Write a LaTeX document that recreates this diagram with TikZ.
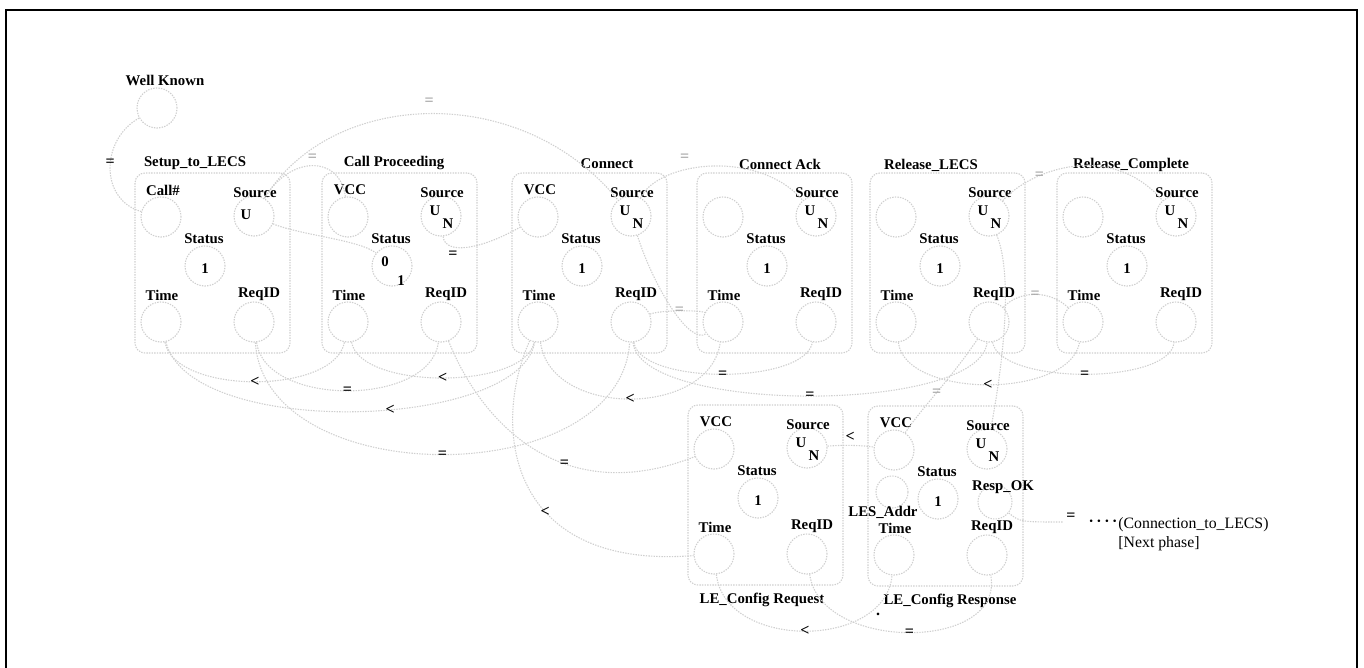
\documentclass[tikz,border=0pt]{standalone}
\usepackage{fontspec}
\setmainfont{Liberation Serif}

% one message: rounded frame with its five field circles and their names
\newcommand\msgfields[2]{%
  \node[msgbox] (#1box) at (77.5,90) {};
  \node[fld] (#1a) at (26,44) {};
  \node[lbl] (#1al) at (28,17) {#2};
  \node[fld] (#1s) at (119,43) {};
  \node[lbl] (#1sl) at (120,20) {Source};
  \node[fld] (#1st) at (70,93) {};
  \node[lbl] (#1stl) at (69,66) {Status};
  \node[fld] (#1t) at (26,149) {};
  \node[lbl] (#1tl) at (27,122) {Time};
  \node[fld] (#1r) at (119,149) {};
  \node[lbl] (#1rl) at (124,121) {ReqID};
}
\newcommand\srcUN[1]{\node[lbl] (#1u) at (113,38) {U}; \node[lbl] (#1n) at (126,51) {N};}
\newcommand\srcUonly[1]{\node[lbl] (#1u) at (111,42) {U};}
\newcommand\statOne[1]{\node[lbl] (#1one) at (70,96) {1};}
\newcommand\statZeroOne[1]{\node[lbl] (#1zero) at (63,89) {0}; \node[lbl] (#1one) at (79,108) {1};}

\begin{document}
\begin{tikzpicture}[x=0.5pt,y=-0.5pt,
  faint/.style={draw=black!19, line width=0.55pt, dash pattern=on 0.7pt off 0.6pt},
  fld/.style={circle, faint, minimum size=20pt, inner sep=0pt},
  msgbox/.style={faint, rounded corners=5pt, minimum width=77.5pt, minimum height=90pt, inner sep=0pt},
  lbl/.style={font=\bfseries\fontsize{7.4}{8}\selectfont, inner sep=0pt},
  rel/.style={font=\bfseries\fontsize{8}{8}\selectfont, inner sep=0.6pt, text=black},
  relgray/.style={rel, text=black!35},
  note/.style={font=\fontsize{7.9}{9}\selectfont, inner sep=0pt},
  link/.style={faint}
]
\useasboundingbox (0,0) rectangle (1364,668);

% outer frame
\draw[line width=1pt] (6,668) -- (6,10) -- (1357,10) -- (1357,668);

% well known address
\node[lbl] (wkl) at (165,80) {Well Known};
\node[fld] (wk) at (157,108) {};

% first row of messages
\begin{scope}[shift={(135,173)}]
  \msgfields{b1}{Call\#} \srcUonly{b1} \statOne{b1}
\end{scope}
\begin{scope}[shift={(322,173)}]
  \msgfields{b2}{VCC} \srcUN{b2} \statZeroOne{b2}
\end{scope}
\begin{scope}[shift={(512,173)}]
  \msgfields{b3}{VCC} \srcUN{b3} \statOne{b3}
\end{scope}
\begin{scope}[shift={(697,173)}]
  \msgfields{b4}{} \srcUN{b4} \statOne{b4}
\end{scope}
\begin{scope}[shift={(870,173)}]
  \msgfields{b5}{} \srcUN{b5} \statOne{b5}
\end{scope}
\begin{scope}[shift={(1057,173)}]
  \msgfields{b6}{} \srcUN{b6} \statOne{b6}
\end{scope}

% second row
\begin{scope}[shift={(688,405)}]
  \msgfields{b7}{VCC} \srcUN{b7} \statOne{b7}
\end{scope}
\begin{scope}[shift={(868,406)}]
  \msgfields{b8}{VCC} \srcUN{b8} \statOne{b8}
  \node[fld, minimum size=16pt] (b8la) at (24,86) {};
  \node[lbl] (b8lal) at (15,106) {LES\_Addr};
  \node[fld, minimum size=17pt] (b8ok) at (127,96) {};
  \node[lbl] (b8okl) at (135,81) {Resp\_OK};
\end{scope}

% message titles
\node[lbl] (t1) at (195,163) {Setup\_to\_LECS};
\node[lbl] (t2) at (394,163) {Call Proceeding};
\node[lbl] (t3) at (607,164) {Connect};
\node[lbl] (t4) at (780,164) {Connect Ack};
\node[lbl] (t5) at (931,165) {Release\_LECS};
\node[lbl] (t6) at (1131,165) {Release\_Complete};
\node[lbl] (t7) at (762,600) {LE\_Config Request};
\node[lbl] (t8) at (950,601) {LE\_Config Response};

% constraints between fields
\draw[link] (wk) .. controls (100,140) and (100,200) .. node[rel, pos=0.45] {=} (b1a);
\draw[link] (b1s) .. controls (330,90) and (520,80) .. node[relgray, midway, above=3pt] {=} (b3s);
\draw[link] (b1s) .. controls (290,155) and (340,155) .. node[relgray, midway, above=1pt] {=} (b2a);
\draw[link] (b1s) .. controls (300,235) and (360,240) .. (b2st);
\draw[link] (b2s) .. controls (445,255) and (480,250) .. node[rel, pos=0.3, below=1pt] {=} (b3a);
\draw[link] (b3s) .. controls (660,160) and (760,150) .. node[relgray, pos=0.35, above=3pt] {=} (b4s);
\draw[link] (b3s) .. controls (655,290) and (690,345) .. (b4t);
\draw[link] (b5s) .. controls (1030,170) and (1110,140) .. node[relgray, pos=0.3] {=} (b6s);
\draw[link] (b5s) .. controls (1015,280) and (1000,380) .. (b8s);
\draw[link] (b5r) .. controls (1020,290) and (1050,290) .. node[relgray, midway] {=} (b6t);
\draw[link] (b3r) .. controls (660,310) and (700,310) .. node[relgray, midway] {=} (b4t);

\draw[link] (b1t) .. controls (175,395) and (335,395) .. node[rel, midway] {<} (b2t);
\draw[link] (b2t) .. controls (360,390) and (525,390) .. node[rel, midway] {<} (b3t);
\draw[link] (b1t) .. controls (190,440) and (520,430) .. node[rel, pos=0.57] {<} (b3t);
\draw[link] (b3t) .. controls (550,418) and (710,418) .. node[rel, midway] {<} (b4t);
\draw[link] (b5t) .. controls (905,399) and (1070,399) .. node[rel, midway] {<} (b6t);

\draw[link] (b1r) .. controls (265,407) and (430,407) .. node[rel, midway] {=} (b2r);
\draw[link] (b1r) .. controls (265,492) and (620,492) .. node[rel, midway] {=} (b3r);
\draw[link] (b3r) .. controls (640,385) and (805,385) .. node[rel, midway] {=} (b4r);
\draw[link] (b3r) .. controls (640,414) and (980,414) .. node[rel, midway] {=} (b5r);
\draw[link] (b5r) .. controls (1000,385) and (1170,385) .. node[rel, midway] {=} (b6r);

\draw[link] (b2r) .. controls (480,420) and (560,510) .. node[rel, pos=0.62] {=} (b7a);
\draw[link] (b3t) .. controls (490,430) and (510,570) .. node[rel, pos=0.6] {<} (b7t);
\draw[link] (b5r) .. controls (950,380) and (920,410) .. node[relgray, midway] {=} (b8a);
\draw[link] (b7s) .. controls (840,445) and (860,445) .. node[rel, midway, above=1pt] {<} (b8a);

\draw[link] (b7t) .. controls (725,650) and (885,650) .. node[rel, midway] {<} (b8t);
\draw[link] (b7r) .. controls (820,652) and (1005,652) .. node[rel, midway] {=} (b8r);
\node[rel] (dotmark) at (878,614) {.};

% hand-over to the next phase
\coordinate (nextph) at (1063,522);
\draw[link] (b8ok) .. controls (1020,522) .. node[rel, pos=1, above=0pt, xshift=4pt] {=} (nextph);
\node[note] (dots) at (1103,523) {\textbf{·\,·\,·\,·}};
\node[note, anchor=west] (conn) at (1118,525) {(Connection\_to\_LECS)};
\node[note, anchor=west] (nextp) at (1118,544) {[Next phase]};

\end{tikzpicture}
\end{document}
